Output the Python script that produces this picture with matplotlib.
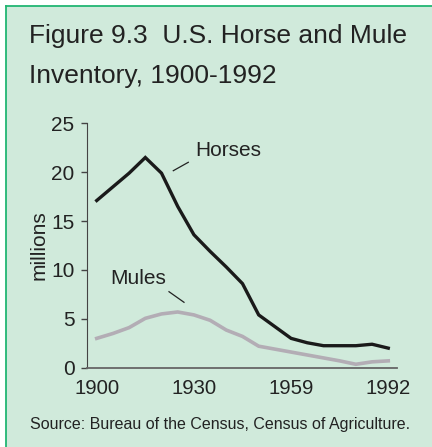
import numpy as np
import matplotlib.pyplot as plt
from matplotlib.patches import Rectangle

plt.rcParams['font.family'] = ['Liberation Sans', 'DejaVu Sans']

# census points, evenly spaced along the axis
years = ['1900', '1905', '1910', '1915', '1920', '1925', '1930', '1935', '1940', '1945',
         '1950', '1954', '1959', '1964', '1969', '1974', '1978', '1987', '1992']
horses = [17.1, 18.5, 19.9, 21.5, 19.9, 16.5, 13.6, 11.9, 10.3, 8.6,
          5.4, 4.2, 3.0, 2.55, 2.25, 2.25, 2.25, 2.4, 2.0]
mules = [3.0, 3.5, 4.1, 5.05, 5.5, 5.7, 5.4, 4.85, 3.85, 3.2,
         2.2, 1.9, 1.6, 1.3, 1.0, 0.7, 0.35, 0.6, 0.7]
shown_ticks = ['1900', '1930', '1959', '1992']

W, H = 432, 447
bg = '#d0eadb'
green = '#22b573'
fig = plt.figure(figsize=(W / 100, H / 100), dpi=100, facecolor='white')

# mint panel with a green frame (only left/top edges fall inside the picture)
x0, y0 = 5.5 / W, 1 - 5.5 / H
fig.patches.append(Rectangle((x0, 0), 1 - x0, y0, transform=fig.transFigure,
                             facecolor=bg, edgecolor='none', zorder=-5))
fig.add_artist(plt.Line2D([x0, x0], [0, y0], color=green, lw=1.3))
fig.add_artist(plt.Line2D([x0, 1], [y0, y0], color=green, lw=1.3))

ax = fig.add_axes([87 / W, 1 - 367.7 / H, (396.7 - 87) / W, (367.7 - 123.3) / H])
ax.set_facecolor('none')

x = np.arange(len(years))
ax.plot(x, mules, color='#b3adb5', lw=2.6, solid_joinstyle='miter')
ax.plot(x, horses, color='#1a1a1a', lw=2.4, solid_joinstyle='miter')

ax.set_xlim(-0.6, len(years) - 1 + 0.52)
ax.set_ylim(0, 25)
ax.set_yticks([0, 5, 10, 15, 20, 25])
ax.set_xticks([years.index(t) for t in shown_ticks])
ax.set_xticklabels(shown_ticks)

for s in ['top', 'right']:
    ax.spines[s].set_visible(False)
ax.spines['left'].set_color('#444444')
ax.spines['bottom'].set_color('#666666')
ax.spines['bottom'].set_linewidth(1.3)
ax.tick_params(axis='y', length=4, width=1, color='#444444', pad=5,
               labelsize=15, labelcolor='#222222')
ax.tick_params(axis='x', length=0, pad=8, labelsize=14.6, labelcolor='#222222')
ax.set_ylabel('millions', fontsize=15, color='#222222', labelpad=2)

# labels with leader lines
ax.text(195 / W, 1 - 150 / H, 'Horses', transform=fig.transFigure, fontsize=15,
        color='#222222', va='center', ha='left')
ax.plot([173.3 / W, 188.3 / W], [1 - 170.7 / H, 1 - 162.3 / H], transform=fig.transFigure,
        color='#222222', lw=0.9, clip_on=False)
ax.text(110 / W, 1 - 278 / H, 'Mules', transform=fig.transFigure, fontsize=15,
        color='#222222', va='center', ha='left')
ax.plot([169 / W, 184 / W], [1 - 291.7 / H, 1 - 302.3 / H], transform=fig.transFigure,
        color='#222222', lw=0.9, clip_on=False)

fig.text(29 / W, 1 - 43 / H, 'Figure 9.3  U.S. Horse and Mule', fontsize=19,
         color='#222222', va='baseline')
fig.text(29 / W, 1 - 83.5 / H, 'Inventory, 1900-1992', fontsize=19,
         color='#222222', va='baseline')
fig.text(30 / W, 1 - 429 / H, 'Source: Bureau of the Census, Census of Agriculture.',
         fontsize=11.5, color='#222222', va='baseline')

fig.savefig('out.png', dpi=100, facecolor='white')
